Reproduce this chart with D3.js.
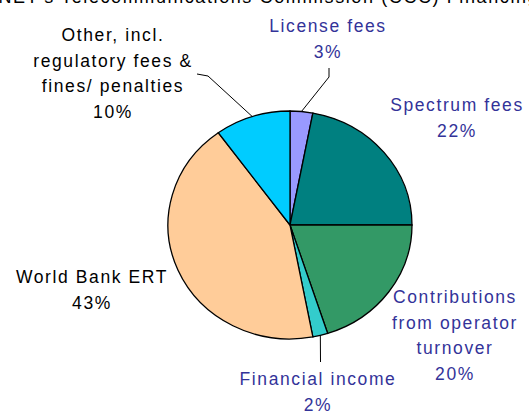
<!DOCTYPE html>
<html>
<head>
<meta charset="utf-8">
<script src="https://cdnjs.cloudflare.com/ajax/libs/d3/7.8.5/d3.min.js"></script>
<style>
  body { margin: 0; background: #fff; }
  svg { display: block; font-family: "Liberation Sans", Arial, sans-serif; }
</style>
</head>
<body>
<div id="chart"></div>
<script>
// data
const categories = ["License fees", "Spectrum fees", "Contributions from operator turnover",
    "Financial income", "World Bank ERT", "Other, incl. regulatory fees & fines/ penalties"];
const shares = [3, 22, 20, 2, 43, 10];
const sliceColors = ["#9999ff", "#008080", "#339966", "#33cccc", "#ffcc99", "#00ccff"];
const labelLines = [
    ["License fees"],
    ["Spectrum fees"],
    ["Contributions", "from operator", "turnover"],
    ["Financial income"],
    ["World Bank ERT"],
    ["Other, incl.", "regulatory fees &", "fines/ penalties"]
];
const titleText = "ANET's Telecommunications Commission (CCC) Financing";

const width = 529, height = 412;
const cx = 290, cy = 225, rx = 122, ry = 114;

const svg = d3.select("#chart").append("svg")
    .attr("width", width)
    .attr("height", height);

// title, mostly cut off at the top edge (as in the original)
svg.append("text")
    .attr("x", 262)
    .attr("y", 3)
    .attr("text-anchor", "middle")
    .attr("font-size", 18)
    .attr("letter-spacing", 1.6)
    .attr("fill", "#000")
    .text(titleText);

const pie = d3.pie().sort(null).value(d => d)(shares);
const arc = d3.arc().innerRadius(0).outerRadius(rx);

svg.append("g")
    .attr("transform", `translate(${cx},${cy}) scale(1,${ry / rx})`)
    .selectAll("path")
    .data(pie)
    .enter().append("path")
    .attr("d", arc)
    .attr("fill", (d, i) => sliceColors[i])
    .attr("stroke", "#000")
    .attr("stroke-width", 1.3)
    .attr("vector-effect", "non-scaling-stroke");

// point on the ellipse edge at the middle of a slice
function edgePoint(d) {
    const a = (d.startAngle + d.endAngle) / 2;
    return [cx + rx * Math.sin(a), cy - ry * Math.cos(a)];
}

// label layout: center x, first baseline, leader elbow points if any
const labelLayout = [
    { x: 328, y: 32, leader: [[329, 77], [329, 68]], color: "#333399" },
    { x: 457, y: 111, color: "#333399" },
    { x: 455, y: 303, color: "#333399" },
    { x: 318, y: 385, leader: [[320.5, 362]], color: "#333399" },
    { x: 92, y: 283, color: "#000" },
    { x: 113, y: 41, leader: [[208, 76], [197, 74]], color: "#000" }
];
const lineGap = 25.5;

pie.forEach((d, i) => {
    const lay = labelLayout[i];
    const lines = labelLines[i].concat([shares[i] + "%"]);
    const t = svg.append("text")
        .attr("text-anchor", "middle")
        .attr("font-size", 17.5)
        .attr("letter-spacing", 1.6)
        .attr("fill", lay.color);
    lines.forEach((s, k) => {
        t.append("tspan")
            .attr("x", lay.x)
            .attr("y", lay.y + k * lineGap)
            .text(s);
    });
    if (lay.leader) {
        const pts = [edgePoint(d)].concat(lay.leader);
        svg.append("path")
            .attr("d", d3.line()(pts))
            .attr("fill", "none")
            .attr("stroke", "#000")
            .attr("stroke-width", 1);
    }
});
</script>
</body>
</html>
